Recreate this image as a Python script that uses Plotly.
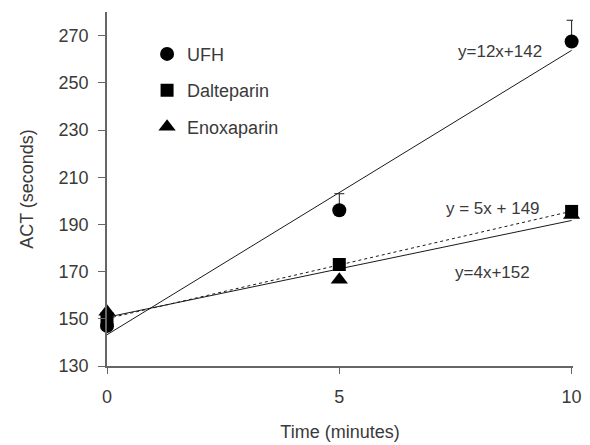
import numpy as np
import plotly.graph_objects as go

time_min = [0, 5, 10]
ufh = [147, 196, 267.5]
ufh_err = [0, 7, 9]
dalteparin = [150, 173, 195.5]
enoxaparin = [153, 166.5, 194]
series_names = ["UFH", "Dalteparin", "Enoxaparin"]
equations = ["y=12x+142", "y = 5x + 149", "y=4x+152"]
y_ticks = [130, 150, 170, 190, 210, 230, 250, 270]
x_ticks = [0, 5, 10]

ink = "#1a1a1a"
axis_col = "#666666"
text_col = "#3a3a3a"
font_family = "Liberation Sans, Arial, sans-serif"

fig = go.Figure()

# trend lines (least-squares fits of each series)
line_styles = {"UFH": "solid", "Dalteparin": "dot", "Enoxaparin": "solid"}
for name, vals in zip(series_names, [ufh, dalteparin, enoxaparin]):
    slope, intercept = np.polyfit(time_min, vals, 1)
    xs = [time_min[0], time_min[-1]]
    ys = [intercept + slope * x for x in xs]
    fig.add_trace(go.Scatter(x=xs, y=ys, mode="lines", showlegend=False,
                             line=dict(color=ink, width=1, dash=line_styles[name]),
                             cliponaxis=False, hoverinfo="skip"))

symbols = {"UFH": "circle", "Dalteparin": "square", "Enoxaparin": "triangle-up"}
sizes = {"UFH": 14, "Dalteparin": 13, "Enoxaparin": 15}
for name, vals in zip(series_names, [ufh, dalteparin, enoxaparin]):
    kw = {}
    if name == "UFH":
        kw["error_y"] = dict(type="data", array=ufh_err, arrayminus=[0, 0, 0],
                             symmetric=False, color=ink, thickness=1, width=5)
    fig.add_trace(go.Scatter(x=time_min, y=vals, mode="markers", name=name,
                             legendgroup=name,
                             marker=dict(symbol=symbols[name], size=sizes[name], color="black"),
                             cliponaxis=False, **kw))

# equation labels
eq_pos = [(500, 52), (493, 208), (492, 272)]
for txt, (px, py) in zip(equations, eq_pos):
    fig.add_annotation(text=txt, xref="paper", yref="paper",
                       x=(px - 107) / 466, y=(366 - py) / 354,
                       xanchor="center", yanchor="middle",
                       showarrow=False, font=dict(size=17, color=text_col, family=font_family))

fig.update_layout(
    width=590, height=445,
    margin=dict(l=107, r=17, t=12, b=79),
    paper_bgcolor="white", plot_bgcolor="white",
    font=dict(family=font_family, size=18, color=text_col),
    legend=dict(x=0.086, y=0.933, xanchor="left", yanchor="top",
                bgcolor="rgba(0,0,0,0)", font=dict(size=18, color=text_col),
                itemsizing="trace", tracegroupgap=10),
    xaxis=dict(range=[0, 10.03], tickvals=x_ticks, showgrid=False, zeroline=False,
               showline=True, linecolor=axis_col, linewidth=1.5, automargin=False,
               ticks="outside", ticklen=6, tickcolor=axis_col, ticklabelstandoff=8,
               title=dict(text="Time (minutes)", standoff=19, font=dict(size=18))),
    yaxis=dict(range=[130, 280], tickvals=y_ticks, showgrid=False, zeroline=False,
               showline=True, linecolor=axis_col, linewidth=1.5, automargin=False,
               ticks="outside", ticklen=7, tickcolor=axis_col, ticklabelstandoff=6,
               title=dict(text="ACT (seconds)", standoff=20, font=dict(size=18))),
)

fig.write_html("out.html", config={"displayModeBar": False},
               post_script="document.body.style.margin='0';")
